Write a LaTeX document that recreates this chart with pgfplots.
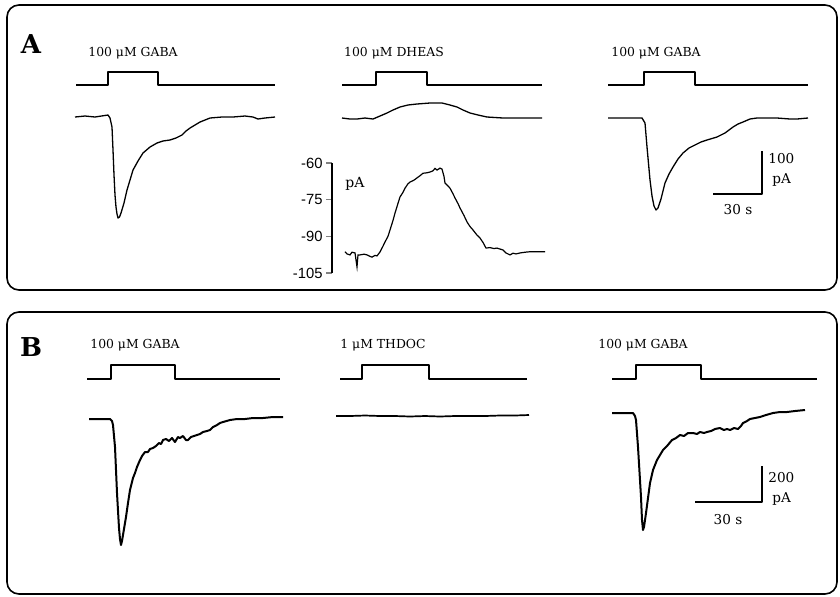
\documentclass[border=0pt]{standalone}
\usepackage{fontspec}
\setmainfont{DejaVu Serif}
\newfontfamily\sansf{Liberation Sans}
\usepackage{pgfplots}
\pgfplotsset{compat=1.18}

% all traces are in picture pixels (x right, y down) of an 840 x 596 page
\newcommand{\lab}{\fontsize{6.2}{7}\selectfont}
\newcommand{\barlab}{\fontsize{6.8}{7}\selectfont}
\newcommand{\panel}{\fontsize{13}{14}\selectfont\bfseries}

\begin{document}
\begin{tikzpicture}
\begin{axis}[
    x=0.5pt, y=0.5pt, y dir=reverse,
    xmin=0, xmax=840, ymin=0, ymax=596,
    hide axis, clip=false,
    every axis plot/.append style={black, mark=none, line join=round},
]
\path (axis cs:0,0) rectangle (axis cs:840,596);
% panel frames
\draw[line width=0.8pt, rounded corners=6pt] (axis cs:7,5) rectangle (axis cs:837,290);
\draw[line width=0.8pt, rounded corners=6pt] (axis cs:7,312) rectangle (axis cs:837,594);
\node at (axis cs:31,44) {\panel A};
\node at (axis cs:31,347) {\panel B};

% ---- panel A: stimulus bars
\addplot[line width=0.8pt] coordinates {(76,85) (108,85) (108,72) (158,72) (158,85) (275,85)};
\addplot[line width=0.8pt] coordinates {(342,85) (376,85) (376,72) (427,72) (427,85) (542,85)};
\addplot[line width=0.8pt] coordinates {(608,85) (644,85) (644,72) (695,72) (695,85) (808,85)};
\node at (axis cs:133,53) {\lab 100 μM GABA};
\node at (axis cs:394,53) {\lab 100 μM DHEAS};
\node at (axis cs:656,53) {\lab 100 μM GABA};

% ---- panel A: currents
\addplot[line width=0.65pt] coordinates {
 (75,117) (85,116) (95,117) (108,115) (110,118) (112,127) (113,150) (114,175)
 (115,195) (116,207) (117,214) (118,218) (119.5,217) (121,213) (124,203)
 (127,190) (130,180) (133,170) (138,161) (143,153) (150,147) (157,143)
 (163,141) (170,140) (176,138) (182,135) (186,131) (190,128) (195,125)
 (200,122) (205,120) (210,118) (222,117) (233,117) (245,116) (253,117)
 (258,119) (265,118) (275,117)};
\addplot[line width=0.65pt] coordinates {
 (342,118) (350,119) (357,119) (365,118) (373,119) (380,116) (387,113)
 (393,110) (400,107) (408,105) (417,104) (430,103) (442,103) (450,105)
 (457,107) (463,110) (470,113) (478,115) (487,117) (503,118) (520,118) (542,118)};
\addplot[line width=0.65pt] coordinates {
 (608,118) (625,118) (642,118) (645,123) (647,147) (650,180) (652,196)
 (654,206) (656,210) (658,208) (661,199) (665,183) (669,174) (673,167)
 (678,159) (683,153) (689,148) (695,145) (701,142) (707,140) (717,137)
 (725,133) (733,127) (738,124) (743,122) (750,119) (757,118) (777,118)
 (790,119) (797,119) (808,118)};
% scale bar A
\addplot[line width=0.7pt] coordinates {(713,194) (762,194) (762,151)};
\node[anchor=west, inner sep=0pt] at (axis cs:768,159) {\barlab 100};
\node[anchor=west, inner sep=0pt] at (axis cs:772,180) {\barlab pA};
\node at (axis cs:738,210) {\barlab 30 s};

% ---- panel B: stimulus bars
\addplot[line width=0.8pt] coordinates {(87,379) (111,379) (111,365) (175,365) (175,379) (280,379)};
\addplot[line width=0.8pt] coordinates {(340,379) (362,379) (362,365) (429,365) (429,379) (527,379)};
\addplot[line width=0.8pt] coordinates {(612,379) (636,379) (636,365) (701,365) (701,379) (817,379)};
\node at (axis cs:135,345) {\lab 100 μM GABA};
\node at (axis cs:383,345) {\lab 1 μM THDOC};
\node at (axis cs:643,345) {\lab 100 μM GABA};

% ---- panel B: currents
\addplot[line width=1pt] coordinates {
 (89,419) (100,419) (110,419) (112,421) (113,425) (115,447) (117,493) (119,528)
 (120,539) (121,545) (122,541) (123,535) (126,517) (128,503) (130,490) (131,486)
 (133,478) (135,473) (137,467) (140,460) (142,456) (145,452) (148,452)
 (150,449) (153,448) (156,446) (159,443) (161,444) (163,440) (166,439)
 (169,441) (172,438) (175,442) (178,437) (180,438) (183,436) (186,440)
 (188,440) (191,437) (194,436) (197,435) (200,434) (203,432) (207,431)
 (210,430) (213,427) (217,425) (220,423) (223,422) (230,420) (237,419)
 (245,419) (253,418) (263,418) (273,417) (283,417)};
\addplot[line width=0.85pt] coordinates {
 (336,416) (350,416) (365,415.5) (380,416) (395,416) (410,416.5) (425,416)
 (440,416.5) (455,416) (470,416) (485,416) (500,415.5) (515,415.5) (529,415)};
\addplot[line width=1pt] coordinates {
 (612,413) (625,413) (633,413) (635,416) (636,420) (638,447) (641,497)
 (642,520) (643,530) (644,527) (646,513) (650,483) (653,470) (657,460)
 (660,455) (663,450) (667,446) (672,440) (676,438) (680,435) (684,436)
 (688,433) (693,433) (697,434) (700,432) (704,433) (707,432) (711,431)
 (715,429) (720,428) (724,430) (727,429) (730,430) (734,428) (738,429)
 (741,426) (743,423) (747,421) (750,419) (755,418) (760,417) (766,415)
 (773,413) (780,412) (787,412) (795,411) (805,410)};
% scale bar B
\addplot[line width=0.7pt] coordinates {(695,502) (762,502) (762,466)};
\node[anchor=west, inner sep=0pt] at (axis cs:768,478) {\barlab 200};
\node[anchor=west, inner sep=0pt] at (axis cs:772,499) {\barlab pA};
\node at (axis cs:728,520) {\barlab 30 s};
\end{axis}

% ---- inset: DHEAS current on an expanded scale (pA)
\begin{axis}[
    at={(166pt,161.5pt)}, anchor=south west,
    x=0.5pt, y=1.2222pt,
    xmin=332, xmax=550, ymin=-105, ymax=-60,
    axis x line=none, axis y line=left,
    y axis line style={-, line width=0.65pt},
    ytick={-60,-75,-90,-105},
    tick align=outside, major tick length=3pt,
    tick style={line width=0.65pt},
    yticklabel style={font=\sansf\fontsize{7.4}{8}\selectfont, inner sep=1.5pt},
    /pgf/number format/assume math mode=true,
    clip=false,
]
\addplot[black, line width=0.6pt, mark=none] coordinates {
 (345,-96.3) (347,-97.2) (350,-97.6) (352,-96.5) (355,-96.8) (357,-102.5)
 (358,-97.6) (360,-97.6) (364,-97.3) (367,-97.6) (370,-98.2) (372,-98.5)
 (375,-97.8) (377,-98) (380,-96.4) (383,-94) (385,-92.3) (388,-90)
 (390,-87.4) (393,-83.5) (395,-80.5) (398,-76.5) (400,-73.9) (403,-72)
 (405,-70.3) (408,-68.5) (410,-67.8) (414,-67) (417,-66.1) (420,-65.2)
 (423,-64.2) (427,-64) (430,-63.7) (433,-63.2) (435,-62.2) (437,-62.9)
 (440,-62.1) (442,-62.5) (444,-65.5) (445,-68.2) (448,-69.4) (450,-70.3)
 (453,-72.6) (455,-74.3) (458,-76.6) (460,-78.4) (464,-81.5) (467,-84.1)
 (470,-86) (473,-87.4) (477,-89.5) (480,-90.7) (483,-92.5) (486,-94.8)
 (490,-94.6) (494,-95) (497,-94.8) (500,-95.2) (503,-95.6) (506,-96.8)
 (510,-97.6) (513,-96.9) (516,-97.2) (520,-96.8) (525,-96.5) (530,-96.3)
 (538,-96.3) (545,-96.3)};
\node[anchor=west, inner sep=0pt] at (axis cs:345,-68.5) {\fontsize{7}{8}\selectfont pA};
\end{axis}
\end{tikzpicture}
\end{document}
